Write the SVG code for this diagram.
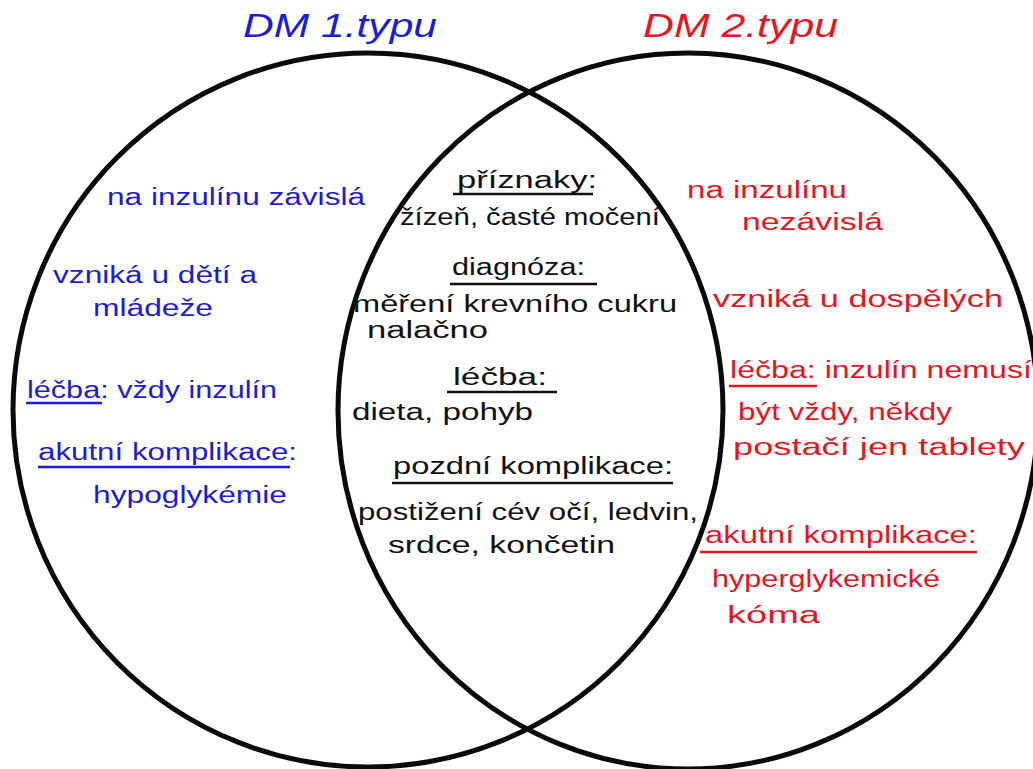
<svg xmlns="http://www.w3.org/2000/svg" width="1033" height="769" viewBox="0 0 1033 769">
<style>
.set{fill:none;stroke:#0a0a0a;stroke-width:5}
text{font-family:"Liberation Sans","DejaVu Sans",sans-serif;font-size:23px}
.b{fill:#1c1cd6}
.r{fill:#e8141e}
.k{fill:#111}
.title{font-size:33px;font-style:italic}
.ub{stroke:#1c1cd6;stroke-width:2.5}
.ur{stroke:#e8141e;stroke-width:2.5}
.uk{stroke:#111;stroke-width:2.5}
</style>
<rect width="1033" height="769" fill="#fff"/>
<g id="sets">
<ellipse class="set" cx="368" cy="410" rx="355" ry="357"/>
<ellipse class="set" cx="688" cy="411" rx="350" ry="358"/>
</g>
<g id="title-type1"><text class="b title" x="243" y="37" textLength="194" lengthAdjust="spacingAndGlyphs">DM 1.typu</text></g>
<g id="title-type2"><text class="r title" x="643" y="37" textLength="195" lengthAdjust="spacingAndGlyphs">DM 2.typu</text></g>
<g id="type1">
<text class="b" x="107" y="205" textLength="258" lengthAdjust="spacingAndGlyphs">na inzulínu závislá</text>
<text class="b" x="53" y="283" textLength="204" lengthAdjust="spacingAndGlyphs">vzniká u dětí a</text>
<text class="b" x="93" y="316" textLength="120" lengthAdjust="spacingAndGlyphs">mládeže</text>
<text class="b" x="27" y="398" textLength="250" lengthAdjust="spacingAndGlyphs">léčba: vždy inzulín</text>
<line class="ub" x1="26" y1="403" x2="102" y2="403"/>
<text class="b" x="38" y="460" textLength="259" lengthAdjust="spacingAndGlyphs">akutní komplikace:</text>
<line class="ub" x1="38" y1="467" x2="290" y2="467"/>
<text class="b" x="93" y="503" textLength="194" lengthAdjust="spacingAndGlyphs">hypoglykémie</text>
</g>
<g id="both">
<text class="k" x="457" y="188" textLength="140" lengthAdjust="spacingAndGlyphs">příznaky:</text>
<line class="uk" x1="453" y1="194" x2="593" y2="194"/>
<text class="k" x="400" y="225" textLength="260" lengthAdjust="spacingAndGlyphs">žízeň, časté močení</text>
<text class="k" x="452" y="275" textLength="133" lengthAdjust="spacingAndGlyphs">diagnóza:</text>
<line class="uk" x1="450" y1="284" x2="597" y2="284"/>
<text class="k" x="353" y="312" textLength="324" lengthAdjust="spacingAndGlyphs">měření krevního cukru</text>
<text class="k" x="367" y="338" textLength="121" lengthAdjust="spacingAndGlyphs">nalačno</text>
<text class="k" x="453" y="385" textLength="94" lengthAdjust="spacingAndGlyphs">léčba:</text>
<line class="uk" x1="447" y1="392" x2="557" y2="392"/>
<text class="k" x="352" y="420" textLength="181" lengthAdjust="spacingAndGlyphs">dieta, pohyb</text>
<text class="k" x="393" y="474" textLength="280" lengthAdjust="spacingAndGlyphs">pozdní komplikace:</text>
<line class="uk" x1="392" y1="483" x2="673" y2="483"/>
<text class="k" x="358" y="520" textLength="340" lengthAdjust="spacingAndGlyphs">postižení cév očí, ledvin,</text>
<text class="k" x="388" y="553" textLength="227" lengthAdjust="spacingAndGlyphs">srdce, končetin</text>
</g>
<g id="type2">
<text class="r" x="687" y="198" textLength="160" lengthAdjust="spacingAndGlyphs">na inzulínu</text>
<text class="r" x="742" y="230" textLength="141" lengthAdjust="spacingAndGlyphs">nezávislá</text>
<text class="r" x="713" y="307" textLength="290" lengthAdjust="spacingAndGlyphs">vzniká u dospělých</text>
<text class="r" x="730" y="378" textLength="302" lengthAdjust="spacingAndGlyphs">léčba: inzulín nemusí</text>
<line class="ur" x1="729" y1="386" x2="817" y2="386"/>
<text class="r" x="738" y="420" textLength="214" lengthAdjust="spacingAndGlyphs">být vždy, někdy</text>
<text class="r" x="733" y="455" textLength="292" lengthAdjust="spacingAndGlyphs">postačí jen tablety</text>
<text class="r" x="705" y="543" textLength="272" lengthAdjust="spacingAndGlyphs">akutní komplikace:</text>
<line class="ur" x1="700" y1="552" x2="977" y2="552"/>
<text class="r" x="712" y="587" textLength="228" lengthAdjust="spacingAndGlyphs">hyperglykemické</text>
<text class="r" x="727" y="623" textLength="93" lengthAdjust="spacingAndGlyphs">kóma</text>
</g>
</svg>
